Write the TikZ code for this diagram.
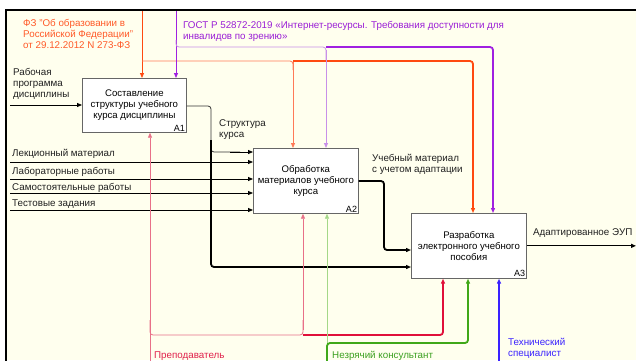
\documentclass[tikz,border=0pt]{standalone}
\usepackage{fontspec}
\setmainfont{Liberation Sans}
\usetikzlibrary{arrows.meta}
\definecolor{bgc}{HTML}{FFFFEE}
\definecolor{ora}{HTML}{FF4A10}
\definecolor{oral}{HTML}{FF7A58}
\definecolor{orat}{HTML}{FF5A28}
\definecolor{pur}{HTML}{A020E0}
\definecolor{purl}{HTML}{C890E8}
\definecolor{purt}{HTML}{9A1ED6}
\definecolor{crim}{HTML}{E0103A}
\definecolor{criml}{HTML}{E87088}
\definecolor{crimt}{HTML}{E0204A}
\definecolor{grn}{HTML}{40A818}
\definecolor{grnl}{HTML}{A4D888}
\definecolor{grnt}{HTML}{3CA020}
\definecolor{blu}{HTML}{3A22FF}
\definecolor{txt}{HTML}{202020}
\begin{document}
\begin{tikzpicture}[x=1pt,y=-1pt,
  lbl/.style={font=\fontsize{9.8}{11}\selectfont, inner sep=0pt, align=left, text=txt},
  box/.style={draw=black!60, fill=white, line width=0.7pt, anchor=north west,
    font=\fontsize{9.6}{11}\selectfont, align=center, inner sep=0pt},
  boxno/.style={font=\fontsize{9}{10}\selectfont, anchor=south east, inner sep=1.5pt},
  arr/.style={-{Triangle[length=5pt,width=4pt]}},
  thinl/.style={line width=0.8pt},
  thickl/.style={line width=1.8pt},
  rc/.style={rounded corners=3pt}]
\useasboundingbox (0,0) rectangle (636,360);
\fill[white] (0,0) rectangle (636,360);
\fill[bgc] (6,10) rectangle (636,360);
\draw[line width=2.2pt] (6,361) -- (6,10) -- (636,10);

% boxes
\node[box, minimum width=104pt, minimum height=54pt] (A1) at (82,78)
  {Составление\\структуры учебного\\курса дисциплины};
\node[boxno] (n1) at (A1.south east) {A1};
\node[box, minimum width=105pt, minimum height=65pt] (A2) at (253,148)
  {Обработка\\материалов учебного\\курса};
\node[boxno] (n2) at (A2.south east) {A2};
\node[box, minimum width=115pt, minimum height=65pt] (A3) at (411,213)
  {\raisebox{-1.5pt}{\parbox{115pt}{\centering Разработка\\электронного учебного\\пособия}}};
\node[boxno] (n3) at (A3.south east) {A3};

% labels
\node[lbl, text=orat, anchor=north west] (tFZ) at (23,19.5)
  {ФЗ "Об образовании в\\Российской Федерации"\\от 29.12.2012 N 273-ФЗ};
\node[lbl, text=purt, anchor=north west] (tGOST) at (183,21)
  {ГОСТ Р 52872-2019 «Интернет-ресурсы. Требования доступности для\\инвалидов по зрению»};
\node[lbl, anchor=north west] (tRP) at (13,68) {Рабочая\\программа\\дисциплины};
\node[lbl, anchor=north west] (tSK) at (219,119) {Структура\\курса};
\node[lbl, anchor=north west] (tUM) at (372,154) {Учебный материал\\с учетом адаптации};
\node[lbl, anchor=base west] (tLM) at (12,156) {Лекционный материал};
\node[lbl, anchor=base west] (tLR) at (12,174.5) {Лабораторные работы};
\node[lbl, anchor=base west] (tSR) at (12,190.5) {Самостоятельные работы};
\node[lbl, anchor=base west] (tTZ) at (12,206.3) {Тестовые задания};
\node[lbl, anchor=base west] (tAE) at (533,235) {Адаптированное ЭУП};
\node[lbl, text=crimt, anchor=base west] (tPr) at (154,358) {Преподаватель};
\node[lbl, text=grnt, anchor=base west] (tNK) at (332,358) {Незрячий консультант};
\node[lbl, text=blu, anchor=north west] (tTS) at (508,338) {Технический\\специалист};

% free ends
\coordinate (oTop) at (142,11);
\coordinate (pTop) at (176,11);
\coordinate (iRP) at (10,105);
\coordinate (iLM) at (10,162);
\coordinate (iLR) at (10,179);
\coordinate (iSR) at (10,193);
\coordinate (iTZ) at (10,210);
\coordinate (oOut) at (636,0);
\coordinate (rBot) at (150,361);
\coordinate (gBot) at (327,361);
\coordinate (bBot) at (499,361);

% controls: orange
\draw[ora, thinl, arr] (oTop) -- (A1.north -| oTop);
\draw[oral, thinl, rc] (142,61) -- (293,61) -- (293,70);
\draw[oral, thinl, arr] (293,61) -- (A2.north -| 293,0);
\draw[ora, thickl, rc] (293,61) -- (473,61) -- (473,150);
\draw[ora, thickl, arr] (473,140) -- (A3.north -| 473,0);
% controls: purple
\draw[pur, thinl, arr] (pTop) -- (A1.north -| pTop);
\draw[purl, thinl, rc] (176,40) -- (176,47) -- (326,47) -- (326,60);
\draw[purl, thinl, arr] (326,50) -- (A2.north -| 326,0);
\draw[pur, thickl, rc] (326,47) -- (493,47) -- (493,150);
\draw[pur, thickl, arr] (493,140) -- (A3.north -| 493,0);

% inputs
\draw[black, thinl, arr] (iRP) -- (A1.west |- iRP);
\draw[black, thinl, arr] (iLM) -- (A2.west |- iLM);
\draw[black, thinl, arr] (iLR) -- (A2.west |- iLR);
\draw[black, thinl, arr] (iSR) -- (A2.west |- iSR);
\draw[black, thinl, arr] (iTZ) -- (A2.west |- iTZ);
% A1 output
\draw[black!80, thinl, rc] (A1.east |- 0,106) -- (211,106) -- (211,152) -- (240,152);
\draw[black, thinl, arr] (230,152) -- (A2.west |- 0,152);
\draw[black, thickl, rc] (211,140) -- (211,267) -- (380,267);
\draw[black, thickl, arr] (370,267) -- (A3.west |- 0,267);
% A2 output
\draw[black, thickl, rc] (A2.east |- 0,181) -- (384,181) -- (384,250) -- (395,250);
\draw[black, thickl, arr] (390,250) -- (A3.west |- 0,250);
% A3 output
\draw[black, line width=1.2pt, arr] (A3.east) -- (A3.east -| oOut);

% mechanisms: red
\draw[criml, thinl, arr] (rBot) -- (A1.south -| rBot);
\draw[criml, thinl, rc] (150,320) -- (150,335) -- (303,335) -- (303,320);
\draw[criml, thinl, arr] (303,330) -- (A2.south -| 303,0);
\draw[crim, thickl, rc] (303,335) -- (443,335) -- (443,290);
\draw[crim, thickl, arr] (443,300) -- (A3.south -| 443,0);
% green
\draw[grnl, thinl, arr] (gBot) -- (A2.south -| gBot);
\draw[grn, thickl, rc] (gBot) -- (327,343) -- (468,343) -- (468,300);
\draw[grn, thickl, arr] (468,310) -- (A3.south -| 468,0);
% blue
\draw[blu, thickl, arr] (bBot) -- (A3.south -| bBot);
\end{tikzpicture}
\end{document}
